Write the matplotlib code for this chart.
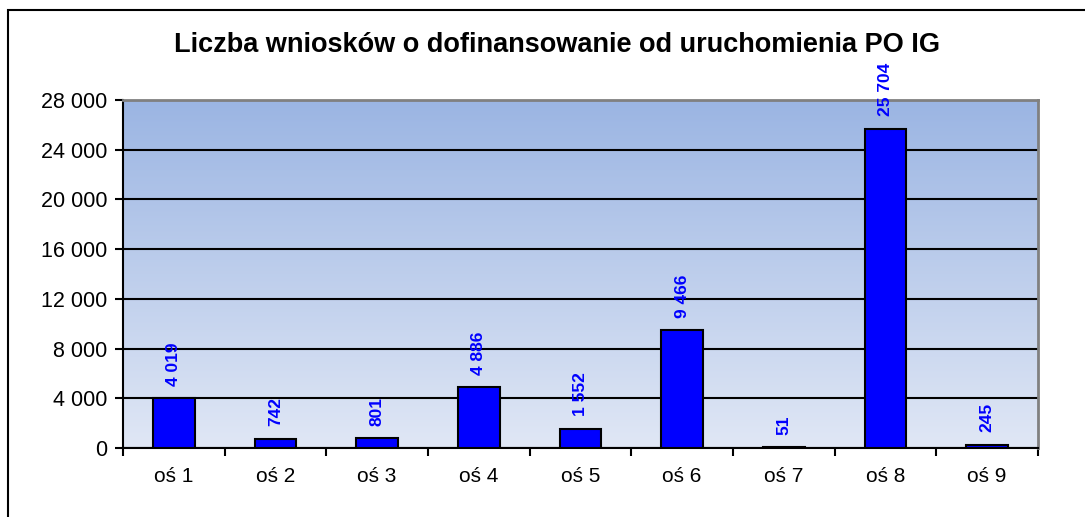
import matplotlib.pyplot as plt
import matplotlib.patches as patches
import numpy as np

plt.rcParams['font.family'] = ['Liberation Sans', 'DejaVu Sans']

categories = ['oś 1', 'oś 2', 'oś 3', 'oś 4', 'oś 5', 'oś 6', 'oś 7', 'oś 8', 'oś 9']
values = [4019, 742, 801, 4886, 1552, 9466, 51, 25704, 245]
y_ticks = [0, 4000, 8000, 12000, 16000, 20000, 24000, 28000]
TITLE = 'Liczba wniosków o dofinansowanie od uruchomienia PO IG'


def fmt(v):
    return f'{v:,}'.replace(',', ' ')


fig = plt.figure(figsize=(10.85, 5.17), dpi=100)
fig.patch.set_facecolor('white')

# outer chart border (only left and top are visible in the original)
fig.add_artist(patches.Rectangle((8 / 1085, -0.05), 1.2, 1 - 10 / 517 + 0.05,
                                 transform=fig.transFigure, fill=False,
                                 edgecolor='black', linewidth=1.5))

ax = fig.add_axes([123 / 1085, 1 - 448 / 517, (1038 - 123) / 1085, (448 - 100) / 517])

# gradient background of the plot area
top = np.array([155, 181, 227]) / 255
bottom = np.array([224, 231, 245]) / 255
t = np.linspace(0, 1, 256)[:, None]
grad = (bottom * (1 - t) + top * t)[:, None, :]
ax.imshow(grad, extent=[-0.5, len(categories) - 0.5, 0, 28000],
          origin='lower', aspect='auto', zorder=0)

x = np.arange(len(categories))
ax.bar(x, values, width=0.41, color='#0000FF', edgecolor='black',
       linewidth=1.5, zorder=3)

for xi, v in zip(x, values):
    ax.annotate(fmt(v), (xi, v), xytext=(0, 9), textcoords='offset points',
                rotation=90, ha='center', va='bottom', color='#0000FF',
                fontsize=12.5, fontweight='bold', annotation_clip=False, zorder=4)

ax.set_xlim(-0.5, len(categories) - 0.5)
ax.set_ylim(0, 28000)
ax.set_yticks(y_ticks)
ax.set_yticklabels([fmt(v) for v in y_ticks], fontsize=15.5)
ax.yaxis.grid(True, color='black', linewidth=1.5, zorder=1)
ax.set_axisbelow(True)

ax.set_xticks(x)
ax.set_xticklabels(categories, fontsize=15)
ax.tick_params(axis='x', which='major', length=0, pad=14)
ax.set_xticks(np.arange(-0.5, len(categories), 1), minor=True)
ax.tick_params(axis='x', which='minor', length=6, width=1.5, direction='out')
ax.tick_params(axis='y', length=6, width=1.5, direction='out', pad=5)

for side in ['top', 'right']:
    ax.spines[side].set_color('#808080')
    ax.spines[side].set_linewidth(2)
for side in ['left', 'bottom']:
    ax.spines[side].set_color('black')
    ax.spines[side].set_linewidth(1.5)

fig.text(557 / 1085, 1 - 45 / 517, TITLE, ha='center', va='center',
         fontsize=19.5, fontweight='bold')

fig.savefig('out.png', dpi=100)
